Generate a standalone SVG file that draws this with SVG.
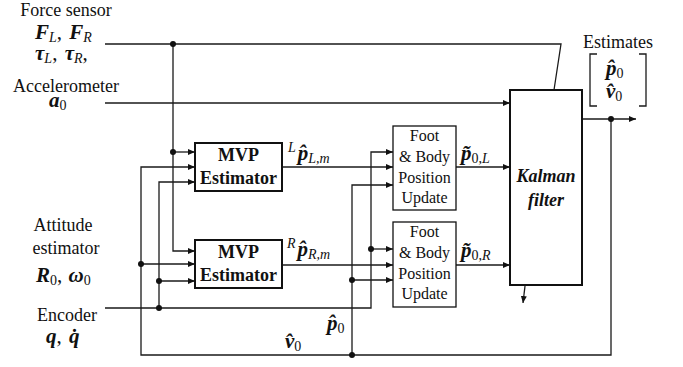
<svg xmlns="http://www.w3.org/2000/svg" width="683" height="367" viewBox="0 0 683 367">
<defs>
<marker id="ah" markerUnits="userSpaceOnUse" markerWidth="8" markerHeight="6" refX="7" refY="3" orient="auto">
<path d="M0,0 L7,3 L0,6 z" fill="#111"/>
</marker>
<style>
text{font-family:"Liberation Serif","Times New Roman",serif;fill:#111}
.t{font-size:18px}
.m{font-size:21px}
.f{font-size:16px}
.b{font-weight:bold}
.bi{font-weight:bold;font-style:italic}
.it{font-style:italic}
.s{font-size:14px}
.w{fill:none;stroke:#1a1a1a;stroke-width:1.3}
.a{marker-end:url(#ah)}
.box{fill:#fff;stroke:#111;stroke-width:2}
.box2{fill:#fff;stroke:#111;stroke-width:1.3}
.d{fill:#111}
</style>
</defs>

<g id="inputs">
<text class="t" x="66" y="16" text-anchor="middle">Force sensor</text>
<text class="m" x="35" y="39"><tspan class="bi">F</tspan><tspan class="s it" dy="3">L</tspan><tspan dy="-3">, </tspan><tspan class="bi" dx="2">F</tspan><tspan class="s it" dy="3">R</tspan></text>
<text class="m" x="35" y="60"><tspan class="bi">τ</tspan><tspan class="s it" dy="3">L</tspan><tspan dy="-3">, </tspan><tspan class="bi" dx="2">τ</tspan><tspan class="s it" dy="3">R</tspan><tspan dy="-3">,</tspan></text>
<text class="t" x="66" y="92" text-anchor="middle">Accelerometer</text>
<text class="m" x="49" y="107"><tspan class="bi">a</tspan><tspan class="s" dy="3">0</tspan></text>
<text class="t" x="63" y="231" text-anchor="middle">Attitude</text>
<text class="t" x="66" y="254" text-anchor="middle">estimator</text>
<text class="m" x="36" y="282"><tspan class="bi">R</tspan><tspan class="s" dy="3">0</tspan><tspan dy="-3">, </tspan><tspan class="bi" dx="1">ω</tspan><tspan class="s" dy="3">0</tspan></text>
<text class="t" x="67" y="321" text-anchor="middle">Encoder</text>
<text class="m" x="46" y="343"><tspan class="bi">q</tspan><tspan>, </tspan><tspan class="bi" dx="2">q̇</tspan></text>
</g>

<g id="connectors">
<polyline class="w" points="105,44 561,44 554,90"/>
<polyline class="w a" points="173,44 173,251 195,251"/>
<line class="w a" x1="173" y1="152" x2="195" y2="152"/>
<line class="w a" x1="105" y1="103" x2="510" y2="103"/>
<polyline class="w a" points="611,119 611,355 141,355 141,167 195,167"/>
<line class="w a" x1="141" y1="264" x2="195" y2="264"/>
<line class="w a" x1="582" y1="119" x2="636" y2="119"/>
<polyline class="w a" points="352,355 352,185 393,185"/>
<line class="w a" x1="352" y1="280" x2="393" y2="280"/>
<polyline class="w a" points="105,308 371,308 371,152 393,152"/>
<polyline class="w a" points="159,308 159,182 195,182"/>
<line class="w a" x1="159" y1="281" x2="195" y2="281"/>
<line class="w a" x1="371" y1="249" x2="393" y2="249"/>
<line class="w a" x1="282" y1="167" x2="393" y2="167"/>
<line class="w a" x1="282" y1="265" x2="393" y2="265"/>
<line class="w a" x1="456" y1="167" x2="510" y2="167"/>
<line class="w a" x1="456" y1="265" x2="510" y2="265"/>
<line class="w a" x1="525" y1="286" x2="523" y2="303"/>
<circle class="d" cx="173" cy="44" r="3"/>
<circle class="d" cx="173" cy="152" r="3"/>
<circle class="d" cx="141" cy="264" r="3"/>
<circle class="d" cx="159" cy="281" r="3"/>
<circle class="d" cx="159" cy="308" r="3"/>
<circle class="d" cx="371" cy="249" r="3"/>
<circle class="d" cx="352" cy="280" r="3"/>
<circle class="d" cx="352" cy="355" r="3"/>
<circle class="d" cx="611" cy="119" r="3"/>
</g>

<g id="mvp-left">
<rect class="box" x="195" y="143" width="87" height="48"/>
<text class="t b" x="238.5" y="161" text-anchor="middle">MVP</text>
<text class="t b" x="238.5" y="184" text-anchor="middle">Estimator</text>
</g>
<g id="mvp-right">
<rect class="box" x="195" y="240" width="87" height="48"/>
<text class="t b" x="238.5" y="258" text-anchor="middle">MVP</text>
<text class="t b" x="238.5" y="281" text-anchor="middle">Estimator</text>
</g>

<g id="foot-left">
<rect class="box2" x="393" y="126" width="63" height="84"/>
<text class="f" x="424.5" y="141" text-anchor="middle">Foot</text>
<text class="f" x="424.5" y="162" text-anchor="middle">&amp; Body</text>
<text class="f" x="424.5" y="183" text-anchor="middle">Position</text>
<text class="f" x="424.5" y="203" text-anchor="middle">Update</text>
</g>
<g id="foot-right">
<rect class="box2" x="393" y="222" width="63" height="85"/>
<text class="f" x="424.5" y="237" text-anchor="middle">Foot</text>
<text class="f" x="424.5" y="258" text-anchor="middle">&amp; Body</text>
<text class="f" x="424.5" y="279" text-anchor="middle">Position</text>
<text class="f" x="424.5" y="299" text-anchor="middle">Update</text>
</g>

<g id="kalman">
<rect class="box" x="510" y="90" width="72" height="195"/>
<text class="t bi" x="546" y="182" text-anchor="middle">Kalman</text>
<text class="t bi" x="546" y="206" text-anchor="middle">filter</text>
</g>

<g id="labels">
<text class="m" x="288" y="160"><tspan class="s it" dy="-8">L</tspan><tspan class="bi" dx="2" dy="8">p̂</tspan><tspan class="s it" dy="3">L,m</tspan></text>
<text class="m" x="287" y="256"><tspan class="s it" dy="-8">R</tspan><tspan class="bi" dx="2" dy="8">p̂</tspan><tspan class="s it" dy="3">R,m</tspan></text>
<text class="m" x="461" y="160"><tspan class="bi">p̃</tspan><tspan class="s" dy="3">0,</tspan><tspan class="s it">L</tspan></text>
<text class="m" x="461" y="257"><tspan class="bi">p̃</tspan><tspan class="s" dy="3">0,</tspan><tspan class="s it">R</tspan></text>
<text class="m" x="327" y="330"><tspan class="bi">p̂</tspan><tspan class="s" dy="3">0</tspan></text>
<text class="m" x="285" y="348"><tspan class="bi">v̂</tspan><tspan class="s" dy="3">0</tspan></text>
</g>

<g id="estimates">
<text class="t" x="618" y="48" text-anchor="middle">Estimates</text>
<polyline class="w" points="597,54 590,54 590,106 597,106"/>
<polyline class="w" points="639,54 646,54 646,106 639,106"/>
<text class="m" x="606" y="75"><tspan class="bi">p̂</tspan><tspan class="s" dy="3">0</tspan></text>
<text class="m" x="606" y="98"><tspan class="bi">v̂</tspan><tspan class="s" dy="3">0</tspan></text>
</g>
</svg>
